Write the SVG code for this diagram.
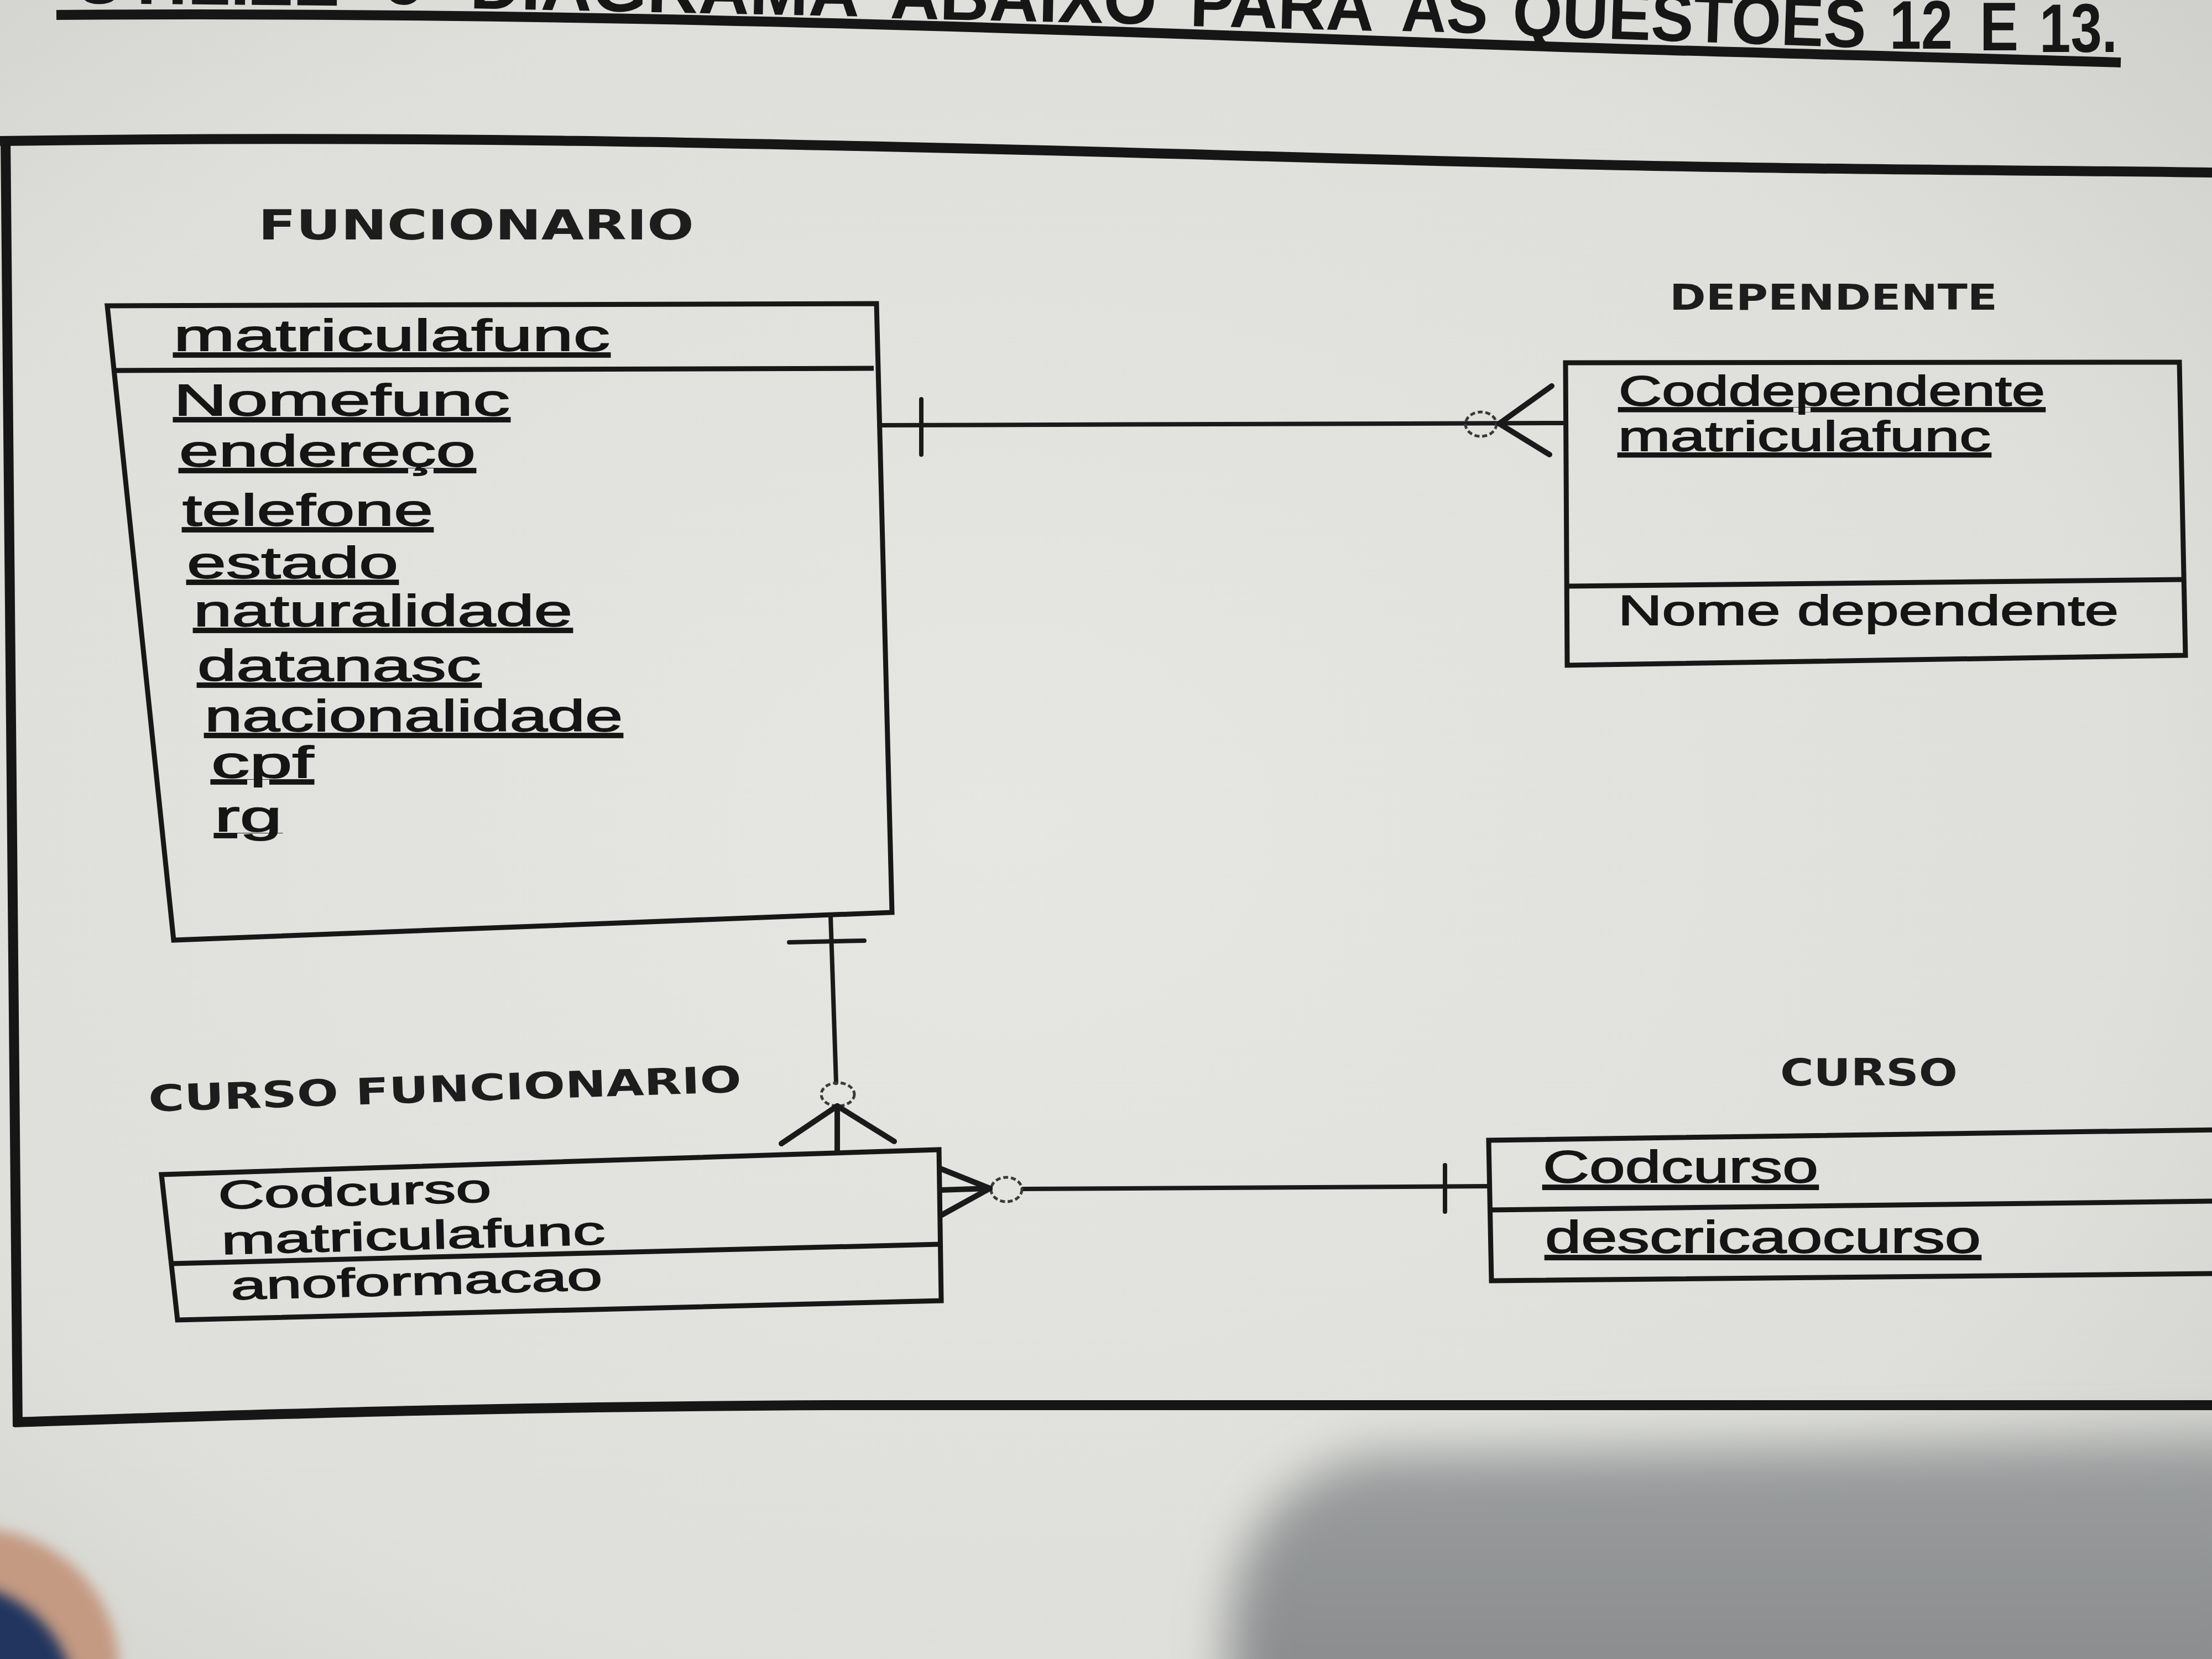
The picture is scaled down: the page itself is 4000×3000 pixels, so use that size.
<svg xmlns="http://www.w3.org/2000/svg" width="4000" height="3000" viewBox="0 0 4000 3000">
  <defs>
    <style>
      .box { fill: none; stroke: #171717; stroke-width: 9; stroke-linejoin: miter; }
      .div { fill: none; stroke: #171717; stroke-width: 9; }
      .ttl { font-family: "DejaVu Sans", Verdana, sans-serif; font-weight: bold; fill: #1d1d1d; }
      .attr { font-family: "Liberation Sans", Arial, sans-serif; fill: #151515; stroke: #151515; stroke-width: 1.8; }
      .u { text-decoration: underline; }
      .hdr { font-family: "Liberation Sans", Arial, sans-serif; font-weight: bold; font-size: 125px; fill: #161616; }
      .conn { stroke: #1a1a1a; stroke-width: 8; fill: none; stroke-linecap: round; }
      .leg { stroke: #1a1a1a; stroke-width: 10; fill: none; stroke-linecap: round; }
      .circ { stroke: #3a3a3a; stroke-width: 5; fill: none; stroke-dasharray: 9 5; }
      .frame { stroke: #161616; stroke-width: 18; fill: none; stroke-linecap: butt; }
    </style>
    <radialGradient id="paper" cx="0.45" cy="0.5" r="0.75">
      <stop offset="0" stop-color="#e6e7e2"/>
      <stop offset="0.7" stop-color="#dedfda"/>
      <stop offset="1" stop-color="#cfd0cb"/>
    </radialGradient>
    <linearGradient id="shade" x1="0" y1="0" x2="0" y2="1">
      <stop offset="0" stop-color="#9c9e9f"/>
      <stop offset="1" stop-color="#87898b"/>
    </linearGradient>
    <filter id="soft" x="-0.2" y="-0.2" width="1.4" height="1.4">
      <feGaussianBlur stdDeviation="45"/>
    </filter>
    <filter id="soft2" x="-0.2" y="-0.2" width="1.4" height="1.4">
      <feGaussianBlur stdDeviation="12"/>
    </filter>
  </defs>

  <!-- paper background and photo shading -->
  <g id="background">
    <rect x="0" y="0" width="4000" height="3000" fill="url(#paper)"/>
    <path d="M2230,3100 C2200,2850 2260,2680 2480,2630 L4100,2600 L4100,3100 Z" fill="url(#shade)" filter="url(#soft)"/>
    <circle cx="-40" cy="3020" r="255" fill="#c49a82" filter="url(#soft2)"/>
    <circle cx="-80" cy="3080" r="215" fill="#23345f" filter="url(#soft2)"/>
  </g>

  <!-- page header (cut at top edge, as in the photo) -->
  <g id="header">
    <path class="frame" d="M102,27 C800,22 1500,38 2300,67 S3400,100 3835,113" stroke-width="16"/>
    <text class="hdr" x="134" y="6" textLength="480" lengthAdjust="spacingAndGlyphs" transform="rotate(0.5 134 6)">UTILIZE</text>
    <text class="hdr" x="690" y="8" textLength="80" lengthAdjust="spacingAndGlyphs">O</text>
    <text class="hdr" x="849" y="15" textLength="705" lengthAdjust="spacingAndGlyphs" transform="rotate(1.2 849 15)">DIAGRAMA</text>
    <text class="hdr" x="1609" y="33" textLength="482" lengthAdjust="spacingAndGlyphs" transform="rotate(1.3 1609 33)">ABAIXO</text>
    <text class="hdr" x="2151" y="47" textLength="333" lengthAdjust="spacingAndGlyphs" transform="rotate(1.5 2151 47)">PARA</text>
    <text class="hdr" x="2533" y="56" textLength="157" lengthAdjust="spacingAndGlyphs" transform="rotate(1.5 2533 56)">AS</text>
    <text class="hdr" x="2734" y="64" textLength="640" lengthAdjust="spacingAndGlyphs" transform="rotate(2 2734 64)">QUESTOES</text>
    <text class="hdr" x="3417" y="88" textLength="114" lengthAdjust="spacingAndGlyphs">12</text>
    <text class="hdr" x="3580" y="91" textLength="70" lengthAdjust="spacingAndGlyphs">E</text>
    <text class="hdr" x="3688" y="94" textLength="141" lengthAdjust="spacingAndGlyphs">13.</text>
  </g>

  <!-- surrounding frame -->
  <g id="frame">
    <path class="frame" d="M0,255 C700,245 1300,255 2300,283 S3500,305 4000,312"/>
    <path class="frame" d="M10,250 L32,2580" stroke-width="16"/>
    <path class="frame" d="M25,2572 C400,2560 800,2545 1500,2541 L4000,2541" stroke-width="15"/>
  </g>

  <!-- FUNCIONARIO -->
  <g id="funcionario">
    <text class="ttl" x="467" y="433" font-size="74" textLength="788" lengthAdjust="spacingAndGlyphs">FUNCIONARIO</text>
    <polygon class="box" points="194,553 1585,549 1613,1650 314,1700"/>
    <line class="div" x1="206" y1="670" x2="1580" y2="666"/>
    <text class="attr u" x="314" y="634" font-size="80" textLength="789" lengthAdjust="spacingAndGlyphs">matriculafunc</text>
    <text class="attr u" x="314" y="751" font-size="80" textLength="608" lengthAdjust="spacingAndGlyphs">Nomefunc</text>
    <text class="attr u" x="324" y="843" font-size="80" textLength="536" lengthAdjust="spacingAndGlyphs">endereço</text>
    <text class="attr u" x="330" y="950" font-size="80" textLength="453" lengthAdjust="spacingAndGlyphs">telefone</text>
    <text class="attr u" x="338" y="1045" font-size="80" textLength="382" lengthAdjust="spacingAndGlyphs">estado</text>
    <text class="attr u" x="350" y="1132" font-size="80" textLength="685" lengthAdjust="spacingAndGlyphs">naturalidade</text>
    <text class="attr u" x="357" y="1231" font-size="80" textLength="513" lengthAdjust="spacingAndGlyphs">datanasc</text>
    <text class="attr u" x="370" y="1322" font-size="80" textLength="756" lengthAdjust="spacingAndGlyphs">nacionalidade</text>
    <text class="attr u" x="382" y="1406" font-size="80" textLength="185" lengthAdjust="spacingAndGlyphs">cpf</text>
    <text class="attr u" x="388" y="1503" font-size="80" textLength="122" lengthAdjust="spacingAndGlyphs">rg</text>
  </g>

  <!-- DEPENDENTE -->
  <g id="dependente">
    <text class="ttl" x="3019" y="560" font-size="64" textLength="593" lengthAdjust="spacingAndGlyphs">DEPENDENTE</text>
    <polygon class="box" points="2831,656 3941,655 3952,1185 2834,1203"/>
    <line class="div" x1="2832" y1="1060" x2="3945" y2="1048"/>
    <text class="attr u" x="2927" y="733" font-size="76" textLength="771" lengthAdjust="spacingAndGlyphs">Coddependente</text>
    <text class="attr u" x="2926" y="815" font-size="76" textLength="674" lengthAdjust="spacingAndGlyphs">matriculafunc</text>
    <text class="attr" x="2926" y="1130" font-size="76" textLength="905" lengthAdjust="spacingAndGlyphs">Nome dependente</text>
  </g>

  <!-- CURSO FUNCIONARIO -->
  <g id="curso_funcionario">
    <text class="ttl" x="269" y="2010" font-size="66" textLength="1073" lengthAdjust="spacingAndGlyphs" transform="rotate(-1.9 269 2010)">CURSO FUNCIONARIO</text>
    <polygon class="box" points="292,2124 1698,2079 1702,2352 321,2387"/>
    <line class="div" x1="310" y1="2285" x2="1699" y2="2250"/>
    <text class="attr" x="395" y="2186" font-size="72" textLength="494" lengthAdjust="spacingAndGlyphs" transform="rotate(-1.5 395 2186)">Codcurso</text>
    <text class="attr" x="401" y="2268" font-size="72" textLength="694" lengthAdjust="spacingAndGlyphs" transform="rotate(-1.5 401 2268)">matriculafunc</text>
    <text class="attr" x="418" y="2350" font-size="72" textLength="672" lengthAdjust="spacingAndGlyphs" transform="rotate(-1.5 418 2350)">anoformacao</text>
  </g>

  <!-- CURSO -->
  <g id="curso">
    <text class="ttl" x="3219" y="1963" font-size="68" textLength="321" lengthAdjust="spacingAndGlyphs">CURSO</text>
    <path class="box" d="M4010,2043 L2692,2062 L2697,2316 L4010,2303"/>
    <line class="div" x1="2694" y1="2188" x2="4010" y2="2172"/>
    <text class="attr u" x="2790" y="2138" font-size="82" textLength="498" lengthAdjust="spacingAndGlyphs">Codcurso</text>
    <text class="attr u" x="2794" y="2265" font-size="82" textLength="788" lengthAdjust="spacingAndGlyphs">descricaocurso</text>
  </g>

  <!-- connectors -->
  <g id="connectors">
    <!-- FUNCIONARIO 1 : N DEPENDENTE -->
    <g id="rel_func_dep">
      <line class="conn" x1="1590" y1="769" x2="2829" y2="765"/>
      <line class="conn" x1="1666" y1="722" x2="1666" y2="822"/>
      <ellipse class="circ" cx="2678" cy="767" rx="28" ry="22"/>
      <line class="leg" x1="2711" y1="766" x2="2806" y2="698"/>
      <line class="leg" x1="2711" y1="766" x2="2802" y2="822"/>
    </g>
    <!-- FUNCIONARIO 1 : N CURSO FUNCIONARIO -->
    <g id="rel_func_cf">
      <line class="conn" x1="1502" y1="1656" x2="1512" y2="1958"/>
      <line class="conn" x1="1427" y1="1704" x2="1563" y2="1701"/>
      <ellipse class="circ" cx="1515" cy="1979" rx="30" ry="21"/>
      <line class="leg" x1="1514" y1="2000" x2="1413" y2="2068"/>
      <line class="leg" x1="1514" y1="2000" x2="1514" y2="2080"/>
      <line class="leg" x1="1514" y1="2000" x2="1617" y2="2064"/>
    </g>
    <!-- CURSO 1 : N CURSO FUNCIONARIO -->
    <g id="rel_curso_cf">
      <line class="conn" x1="1850" y1="2150" x2="2694" y2="2145"/>
      <line class="conn" x1="2613" y1="2107" x2="2613" y2="2191"/>
      <ellipse class="circ" cx="1820" cy="2151" rx="28" ry="22"/>
      <line class="leg" x1="1790" y1="2149" x2="1700" y2="2113"/>
      <line class="leg" x1="1790" y1="2149" x2="1700" y2="2152"/>
      <line class="leg" x1="1790" y1="2149" x2="1703" y2="2197"/>
    </g>
  </g>
</svg>
